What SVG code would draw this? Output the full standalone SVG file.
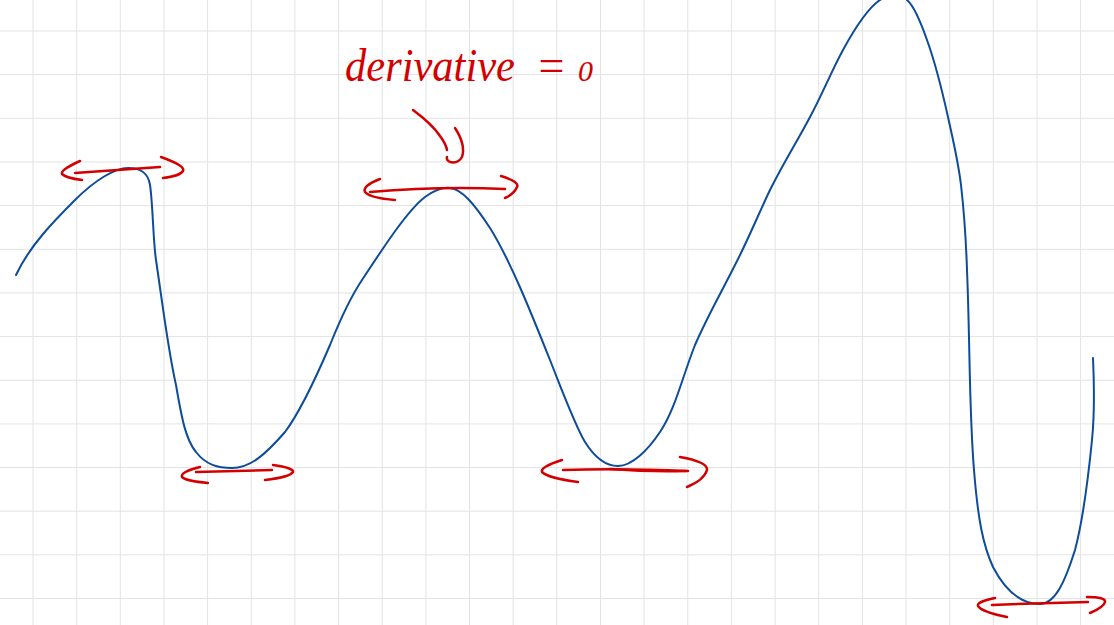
<svg xmlns="http://www.w3.org/2000/svg" width="1114" height="625" viewBox="0 0 1114 625">
<style>
.grid line{stroke:#e3e3e3;stroke-width:1}
.curve{fill:none;stroke:#0d4c9a;stroke-width:2;stroke-linecap:round;stroke-linejoin:round}
.red{fill:none;stroke:#d40000;stroke-width:2.5;stroke-linecap:round;stroke-linejoin:round}
.lbl{font-family:"Liberation Serif",serif;font-style:italic;fill:#d40000}
</style>
<rect width="1114" height="625" fill="#ffffff"/>
<g class="grid" id="grid">
<line x1="33" y1="0" x2="33" y2="625"/><line x1="76.7" y1="0" x2="76.7" y2="625"/><line x1="120.3" y1="0" x2="120.3" y2="625"/><line x1="164" y1="0" x2="164" y2="625"/><line x1="207.6" y1="0" x2="207.6" y2="625"/><line x1="251.3" y1="0" x2="251.3" y2="625"/><line x1="294.9" y1="0" x2="294.9" y2="625"/><line x1="338.6" y1="0" x2="338.6" y2="625"/><line x1="382.2" y1="0" x2="382.2" y2="625"/><line x1="425.9" y1="0" x2="425.9" y2="625"/><line x1="469.5" y1="0" x2="469.5" y2="625"/><line x1="513.2" y1="0" x2="513.2" y2="625"/><line x1="556.8" y1="0" x2="556.8" y2="625"/><line x1="600.5" y1="0" x2="600.5" y2="625"/><line x1="644.1" y1="0" x2="644.1" y2="625"/><line x1="687.8" y1="0" x2="687.8" y2="625"/><line x1="731.4" y1="0" x2="731.4" y2="625"/><line x1="775.1" y1="0" x2="775.1" y2="625"/><line x1="818.7" y1="0" x2="818.7" y2="625"/><line x1="862.4" y1="0" x2="862.4" y2="625"/><line x1="906" y1="0" x2="906" y2="625"/><line x1="949.7" y1="0" x2="949.7" y2="625"/><line x1="993.3" y1="0" x2="993.3" y2="625"/><line x1="1037" y1="0" x2="1037" y2="625"/><line x1="1080.6" y1="0" x2="1080.6" y2="625"/>
<line x1="0" y1="31" x2="1114" y2="31"/><line x1="0" y1="74.6" x2="1114" y2="74.6"/><line x1="0" y1="118.3" x2="1114" y2="118.3"/><line x1="0" y1="162" x2="1114" y2="162"/><line x1="0" y1="205.6" x2="1114" y2="205.6"/><line x1="0" y1="249.3" x2="1114" y2="249.3"/><line x1="0" y1="292.9" x2="1114" y2="292.9"/><line x1="0" y1="336.6" x2="1114" y2="336.6"/><line x1="0" y1="380.2" x2="1114" y2="380.2"/><line x1="0" y1="423.9" x2="1114" y2="423.9"/><line x1="0" y1="467.5" x2="1114" y2="467.5"/><line x1="0" y1="511.2" x2="1114" y2="511.2"/><line x1="0" y1="554.8" x2="1114" y2="554.8"/><line x1="0" y1="598.5" x2="1114" y2="598.5"/>
</g>
<g id="curve">
<path class="curve" d="M16,275 C30,245 55,220 75,200 C95,180 115,168 128,168 C140,168 148,172 150,185 C153,205 153,240 156,260 C162,300 168,350 176,385 C182,420 186,440 196,452 C206,465 218,468 232,468 C250,468 265,455 285,432 C300,412 315,380 330,345 C342,315 352,295 362,280 C385,245 408,210 425,197 C435,190 442,187 450,188 C462,189 475,205 490,228 C510,260 530,310 550,360 C565,398 575,425 585,442 C595,458 605,466 618,466 C632,466 648,450 660,432 C675,410 682,378 695,345 C708,315 720,295 735,265 C748,240 758,215 770,190 C785,160 798,140 810,117 C822,95 832,70 843,50 C855,28 868,8 880,0 C888,-6 900,-8 907,0 C913,5 920,20 927,40 C935,62 942,90 948,117 C953,140 958,160 961,185 C965,220 966,240 967,270 C970,340 969,410 974,470 C978,520 983,545 993,567 C1006,592 1022,604 1040,604 C1055,604 1065,582 1075,550 C1083,520 1088,480 1092,440 C1095,410 1094,380 1093,358"/>
</g>
<g id="connectors">
<g id="tangent1">
<path class="red" d="M75,173 L160,167"/>
<path class="red" d="M80,161 Q60,170 62,174 Q66,178 82,180"/>
<path class="red" d="M161,157 Q186,166 183,171 Q180,176 163,178"/>
</g>
<g id="tangent2">
<path class="red" d="M370,192 Q440,186 505,189"/>
<path class="red" d="M380,179 Q362,186 365,192 Q370,198 395,200"/>
<path class="red" d="M501,176 Q520,182 517,187 Q514,194 505,198"/>
<path class="red" d="M413,110 Q432,124 440,136 Q446,144 447,150"/>
<path class="red" d="M455,128 Q466,145 462,157 Q458,164 450,162 Q446,160 447,157"/>
</g>
<g id="tangent3">
<path class="red" d="M196,472 L272,470" stroke-width="4"/>
<path class="red" d="M200,467 Q180,472 182,477 Q186,481 208,483"/>
<path class="red" d="M273,465 Q294,468 293,472 Q290,477 265,480"/>
</g>
<g id="tangent4">
<path class="red" d="M563,470 Q620,468 688,471"/>
<path class="red" d="M610,469 Q650,472 686,471" stroke-width="4"/>
<path class="red" d="M562,460 Q540,467 542,472 Q548,478 578,482"/>
<path class="red" d="M680,457 Q708,462 707,470 Q704,480 687,487"/>
</g>
<g id="tangent5">
<path class="red" d="M992,605 Q1040,603 1088,602"/>
<path class="red" d="M995,598 Q976,602 978,606 Q982,612 1007,617"/>
<path class="red" d="M1087,597 Q1106,597 1105,602 Q1104,607 1090,613"/>
</g>
</g>
<g id="label">
<text class="lbl" x="345" y="81" font-size="46"><tspan textLength="170" lengthAdjust="spacingAndGlyphs">derivative</tspan><tspan x="524"> = </tspan><tspan x="578" font-size="30">0</tspan></text>
</g>
</svg>
